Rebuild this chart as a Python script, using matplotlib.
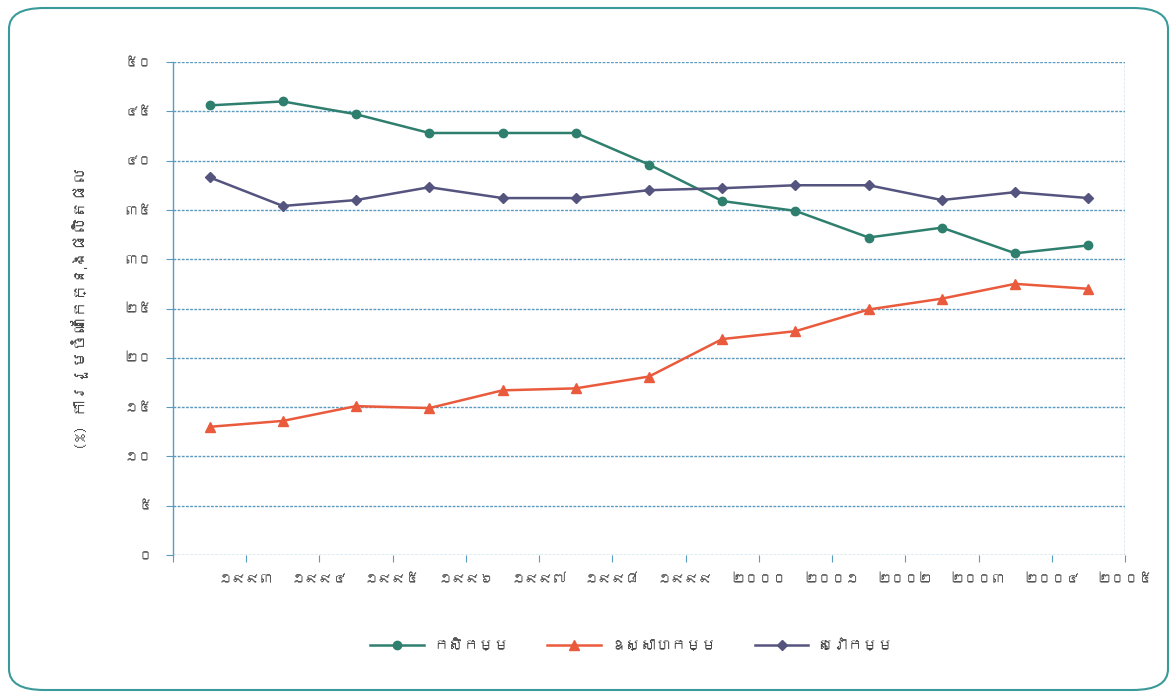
import matplotlib
matplotlib.use("Agg")
import matplotlib.pyplot as plt
from matplotlib import font_manager
from matplotlib.ft2font import FT2Font
from matplotlib.patches import FancyBboxPatch

# ---------------- data ----------------
years = ["១៩៩៣", "១៩៩៤", "១៩៩៥", "១៩៩៦", "១៩៩៧", "១៩៩៨", "១៩៩៩",
         "២០០០", "២០០១", "២០០២", "២០០៣", "២០០៤", "២០០៥"]
agriculture = [45.6, 46.0, 44.7, 42.8, 42.8, 42.8, 39.6, 35.9, 34.9, 32.2, 33.2, 30.6, 31.4]
industry = [13.0, 13.6, 15.1, 14.9, 16.7, 16.9, 18.1, 21.9, 22.7, 24.9, 26.0, 27.5, 27.0]
services = [38.3, 35.4, 36.0, 37.3, 36.2, 36.2, 37.0, 37.2, 37.5, 37.5, 36.0, 36.8, 36.2]
series_names = ["កសិកម្ម", "ឧស្សាហកម្ម", "សេវាកម្ម"]
y_ticks = [0, 5, 10, 15, 20, 25, 30, 35, 40, 45, 50]
y_tick_labels = ["០", "៥", "១០", "១៥", "២០", "២៥", "៣០", "៣៥", "៤០", "៤៥", "៥០"]
y_label = "(%) ការរួមចំណែកក្នុងផលិតផល"

# ---------------- fonts ----------------
khmer_fams = []
for f in font_manager.fontManager.ttflist:
    try:
        ft = FT2Font(f.fname)
        if 0x1780 in ft.get_charmap() and f.name not in khmer_fams:
            khmer_fams.append(f.name)
    except Exception:
        pass
plt.rcParams['font.family'] = khmer_fams + ['DejaVu Sans']

# ---------------- figure ----------------
fig = plt.figure(figsize=(11.75, 6.98), dpi=100)
W, H = 1175, 698
ax = fig.add_axes([173 / W, 1 - 555 / H, (1125 - 173) / W, (555 - 62) / H])

# rounded border
border = FancyBboxPatch((9 / W, 8 / H), (1168 - 9) / W, (690 - 8) / H,
                        boxstyle="round,pad=0,rounding_size=0.03",
                        transform=fig.transFigure, fill=False,
                        edgecolor="#3a9a9a", linewidth=1.5, zorder=0)
fig.patches.append(border)

grid_color = "#5b9bc0"
dash = (0, (2, 1))
x = list(range(len(years)))

for yt in y_ticks:
    ax.axhline(yt, color=grid_color, lw=1.0, ls=dash, zorder=1)
ax.axvline(12.5, color=grid_color, lw=1.0, ls=dash, zorder=1)

ax.plot(x, agriculture, color="#2f7f6e", lw=1.8, marker="o", ms=6,
        label=series_names[0], zorder=3)
ax.plot(x, industry, color="#ea5a3c", lw=1.8, marker="^", ms=7,
        label=series_names[1], zorder=3)
ax.plot(x, services, color="#55547f", lw=1.8, marker="D", ms=5,
        label=series_names[2], zorder=3)

ax.set_xlim(-0.5, 12.5)
ax.set_ylim(0, 50)

for s in ["top", "right", "bottom"]:
    ax.spines[s].set_visible(False)
ax.spines["left"].set_color(grid_color)
ax.spines["left"].set_linestyle(dash)
ax.spines["left"].set_linewidth(1.0)

ax.set_yticks(y_ticks)
ax.set_yticklabels(y_tick_labels, fontsize=10, color="#555555")
ax.tick_params(axis="y", length=5, color=grid_color, direction="out", pad=10)

bounds = [i - 0.5 for i in range(len(years) + 1)]
ax.set_xticks(bounds)
ax.set_xticklabels([""] + years, fontsize=10, color="#555555")
ax.tick_params(axis="x", length=5, color=grid_color, direction="out", pad=8)

ax.set_ylabel(y_label, fontsize=12, color="#444444", labelpad=26)

fig.legend(loc="center", bbox_to_anchor=(632 / W, 1 - 645 / H), ncol=3,
           frameon=False, fontsize=11, handlelength=3.5, columnspacing=2.5,
           handletextpad=0.6, labelcolor="#444444")

fig.savefig("out.png", dpi=100)
